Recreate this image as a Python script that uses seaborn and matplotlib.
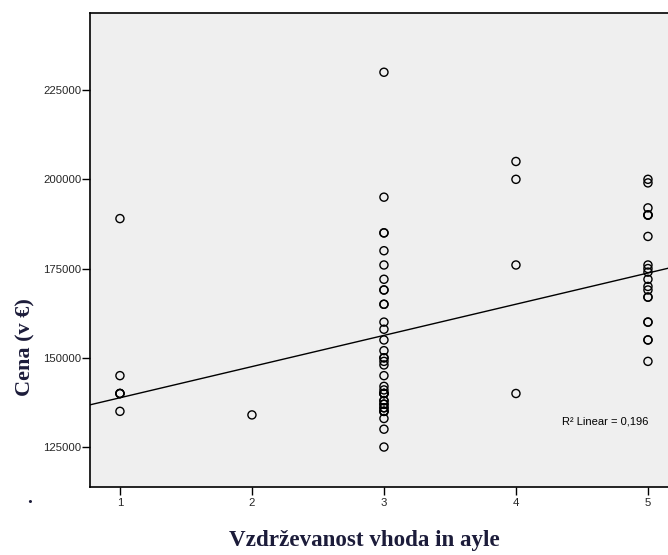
import numpy as np
import pandas as pd
import matplotlib
matplotlib.use("Agg")
import matplotlib.pyplot as plt
import seaborn as sns

# Maintenance rating of the entrance and hall (1-5) vs. price in EUR
rating_1 = [189000, 145000, 140000, 140000, 140000, 135000]
rating_2 = [134000]
rating_3 = [230000, 195000, 185000, 185000, 180000, 176000, 172000, 169000,
            169000, 165000, 165000, 160000, 158000, 155000, 152000, 150000,
            150000, 149000, 148000, 145000, 142000, 141000, 140000, 140000,
            140000, 140000, 138000, 138000, 137000, 137000, 136000, 136000,
            135000, 135000, 135000, 133000, 130000, 125000]
rating_4 = [205000, 200000, 176000, 140000]
rating_5 = [200000, 199000, 192000, 190000, 190000, 190000, 184000, 176000,
            175000, 174000, 172000, 170000, 169000, 167000, 167000, 160000,
            160000, 155000, 155000, 149000]

y_ticks = [125000, 150000, 175000, 200000, 225000]
x_ticks = [1, 2, 3, 4, 5]
r2_label = "R² Linear = 0,196"

groups = {1: rating_1, 2: rating_2, 3: rating_3, 4: rating_4, 5: rating_5}
df = pd.DataFrame(
    [(k, v) for k, vals in groups.items() for v in vals],
    columns=["vzdrzevanost", "cena"],
)

sns.set_style("white")
plt.rcParams["font.family"] = ["Liberation Sans", "DejaVu Sans"]

fig = plt.figure(figsize=(6.68, 5.55), dpi=100)
ax = fig.add_axes([0.1347, 0.1225, 0.8847, 0.8541])
ax.set_facecolor("#efefef")
ax.set_xlim(0.773, 5.25)
ax.set_ylim(113800, 246600)

sns.scatterplot(data=df, x="vzdrzevanost", y="cena", ax=ax,
                marker="o", s=34, facecolor="none", edgecolor="black",
                linewidth=1.0, zorder=3)
sns.regplot(data=df, x="vzdrzevanost", y="cena", ax=ax, scatter=False,
            ci=None, truncate=False, color="black",
            line_kws={"linewidth": 1.0, "zorder": 2})
ax.set_xlim(0.773, 5.25)

ax.set_xticks(x_ticks)
ax.set_yticks(y_ticks)
ax.set_xticklabels([str(t) for t in x_ticks])
ax.set_yticklabels([str(t) for t in y_ticks])
ax.tick_params(axis="both", direction="out", length=5.5, width=1,
               color="black", labelsize=8.2, bottom=True, left=True)
ax.tick_params(axis="y", pad=0.5)
ax.tick_params(axis="x", pad=2.5)

for side in ["left", "bottom", "top"]:
    ax.spines[side].set_color("black")
    ax.spines[side].set_linewidth(1.2)
ax.spines["right"].set_visible(False)

ax.set_xlabel("")
ax.set_ylabel("")

label_color = "#1c1c3a"
fig.text(0.545, 0.027, "Vzdrževanost vhoda in ayle", ha="center", va="center",
         fontsize=16.6, fontweight="bold", family="Liberation Serif",
         color=label_color)
fig.text(0.038, 0.374, "Cena (v €)", ha="center", va="center", rotation=90,
         fontsize=16, fontweight="bold", family="Liberation Serif",
         color=label_color)
fig.text(0.045, 0.101, ".", ha="center", va="center", fontsize=14,
         fontweight="bold", family="Liberation Serif", color=label_color)

fig.text(0.970, 0.2414, r2_label, fontsize=8, ha="right", va="center",
         color="black")

fig.savefig("out.png", dpi=100)
